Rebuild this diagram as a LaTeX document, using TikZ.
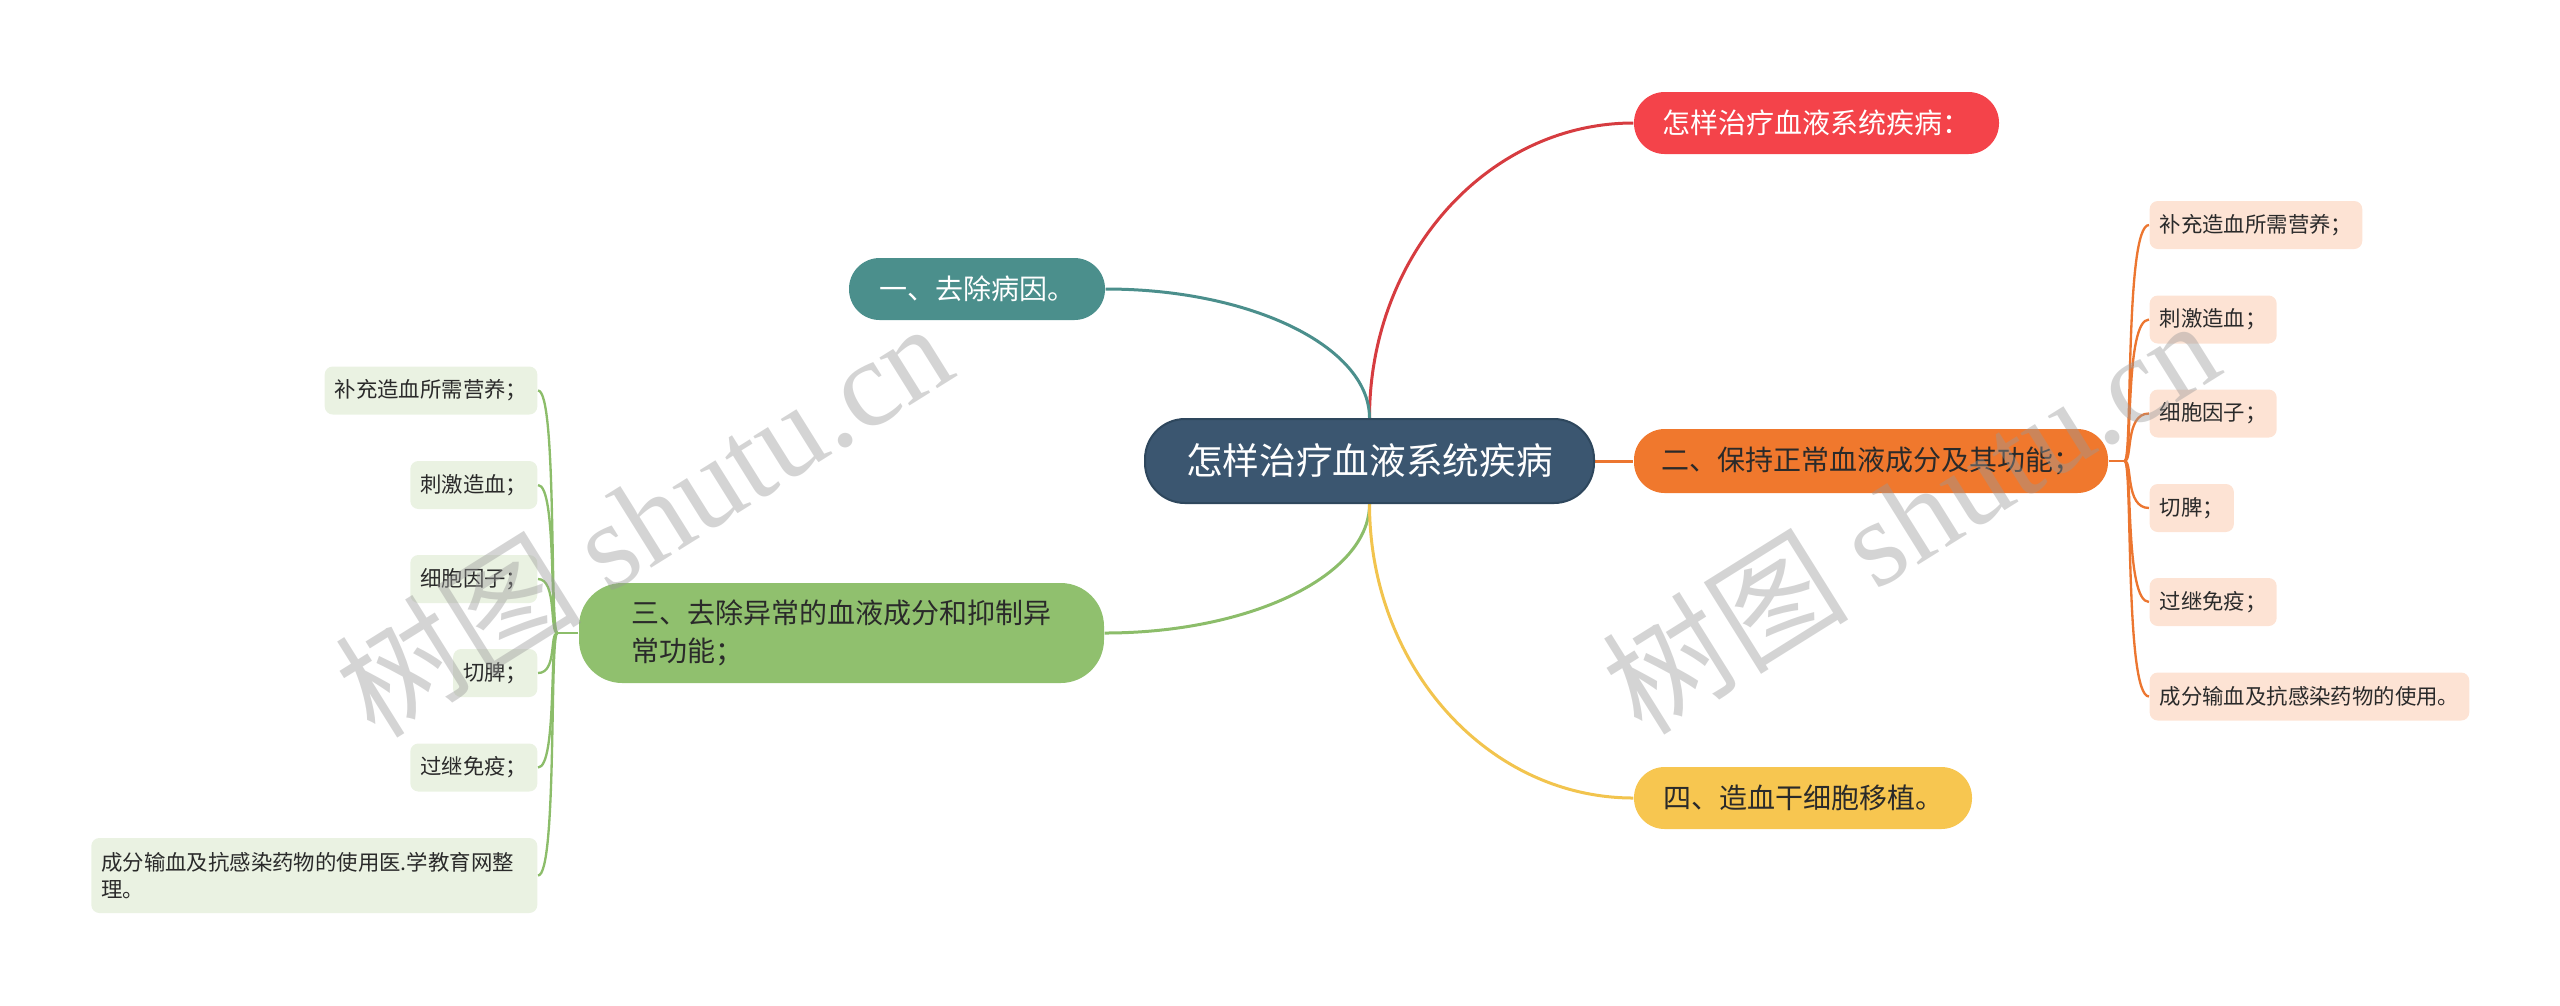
\documentclass[tikz,border=0pt]{standalone}
\usepackage{fontspec}
\setmainfont{Noto Sans CJK SC}
\newfontfamily\wmlatin{Liberation Serif}
\usetikzlibrary{calc,backgrounds}
\definecolor{rootC}{HTML}{3B5670}
\definecolor{rootB}{HTML}{2E475D}
\definecolor{redC}{HTML}{F4434A}
\definecolor{redL}{HTML}{D63C40}
\definecolor{tealC}{HTML}{4B8F8C}
\definecolor{orC}{HTML}{F0782D}
\definecolor{orL}{HTML}{EC7630}
\definecolor{grC}{HTML}{90C06E}
\definecolor{grL}{HTML}{8CBD6A}
\definecolor{yeC}{HTML}{F7C650}
\definecolor{yeL}{HTML}{F2C44E}
\definecolor{orLeaf}{HTML}{FDE3D4}
\definecolor{grLeaf}{HTML}{EAF2E2}
\definecolor{txt}{HTML}{2A2A2A}
\tikzset{
  rootbox/.style={fill=rootC, draw=rootB, line width=0.6pt, rounded corners=12pt, text=white,
    font=\fontsize{11}{13}\selectfont, minimum width=449*0.3pt, minimum height=84*0.3pt, inner sep=0pt},
  branch/.style={rounded corners=9.2pt, minimum height=62*0.3pt, inner sep=0pt,
    font=\fontsize{8.4}{11.2}\selectfont, text=txt},
  leafbox/.style={rounded corners=2.4pt, minimum height=48*0.3pt, inner xsep=3pt, inner ysep=0pt,
    font=\fontsize{6.42}{7.9}\selectfont, text=txt},
  mainline/.style={line width=0.9pt},
  leafline/.style={line width=0.7pt},
  wmark/.style={rotate=32, text=black!40, text opacity=0.42, font=\fontsize{37}{40}\selectfont}
}
\begin{document}
\begin{tikzpicture}[x=0.3pt,y=-0.3pt]
\useasboundingbox (0,0) rectangle (2560,1005);
% nodes
\node[rootbox] (root) at (1369.5,461) {怎样治疗血液系统疾病};
\node[branch, fill=redC, text=white, minimum width=365*0.3pt] (red) at (1816.5,123) {怎样治疗血液系统疾病：};
\node[branch, fill=tealC, text=white, minimum width=256*0.3pt] (teal) at (977,289) {一、去除病因。};
\node[branch, fill=orC, minimum width=474*0.3pt, minimum height=64*0.3pt] (orange) at (1871,461) {二、保持正常血液成分及其功能；};
\node[branch, fill=grC, minimum width=525*0.3pt, minimum height=100*0.3pt, rounded corners=13pt, align=left, text width=420*0.3pt] (green) at (841.5,633) {三、去除异常的血液成分和抑制异\\常功能；};
\node[branch, fill=yeC, minimum width=338*0.3pt] (yellow) at (1803,798) {四、造血干细胞移植。};
% orange leaves
\node[leafbox, fill=orLeaf, anchor=west] (L1) at (2149,225) {补充造血所需营养；};
\node[leafbox, fill=orLeaf, anchor=west] (L2) at (2149,319.5) {刺激造血；};
\node[leafbox, fill=orLeaf, anchor=west] (L3) at (2149,413.5) {细胞因子；};
\node[leafbox, fill=orLeaf, anchor=west] (L4) at (2149,508) {切脾；};
\node[leafbox, fill=orLeaf, anchor=west] (L5) at (2149,602) {过继免疫；};
\node[leafbox, fill=orLeaf, anchor=west] (L6) at (2149,696.5) {成分输血及抗感染药物的使用。};
% green leaves
\node[leafbox, fill=grLeaf, anchor=east] (G1) at (538,390.5) {补充造血所需营养；};
\node[leafbox, fill=grLeaf, anchor=east] (G2) at (538,485) {刺激造血；};
\node[leafbox, fill=grLeaf, anchor=east] (G3) at (538,579) {细胞因子；};
\node[leafbox, fill=grLeaf, anchor=east] (G4) at (538,673) {切脾；};
\node[leafbox, fill=grLeaf, anchor=east] (G5) at (538,767.5) {过继免疫；};
\node[leafbox, fill=grLeaf, anchor=east, minimum height=75*0.3pt, align=left, text width=426*0.3pt] (G6) at (538,875.5) {成分输血及抗感染药物的使用医.学教育网整\\理。};
% connectors
\begin{pgfonlayer}{background}
\draw[mainline, redL] (root.north) .. controls ($(root.north)!0.552!(root.north|-red.west)$) and ($(red.west)!0.552!(root.north|-red.west)$) .. (red.west);
\draw[mainline, tealC] (root.north) .. controls ($(root.north)!0.552!(root.north|-teal.east)$) and ($(teal.east)!0.552!(root.north|-teal.east)$) .. (teal.east);
\draw[mainline, grL] (root.south) .. controls ($(root.south)!0.552!(root.south|-green.east)$) and ($(green.east)!0.552!(root.south|-green.east)$) .. (green.east);
\draw[mainline, yeL] (root.south) .. controls ($(root.south)!0.552!(root.south|-yellow.west)$) and ($(yellow.west)!0.552!(root.south|-yellow.west)$) .. (yellow.west);
\draw[mainline, orL] (root.east) -- (orange.west);
\coordinate (oj) at ($(orange.east)+(16,0)$);
\draw[leafline, orL] (orange.east) -- (oj);
\foreach \n in {L1,L2,L3,L4,L5,L6}{
  \draw[leafline, orL] (oj) .. controls ($(oj)+(8,0)$) and (oj |- \n.west) .. (\n.west);
}
\coordinate (gj) at ($(green.west)+(-21,0)$);
\draw[leafline, grL] (green.west) -- (gj);
\foreach \n in {G1,G2,G3,G4,G5,G6}{
  \draw[leafline, grL] (gj) .. controls ($(gj)+(-8,0)$) and (gj |- \n.east) .. (\n.east);
}
\end{pgfonlayer}
% watermarks
\node[wmark] (wm1) at (643,518) {树图 {\wmlatin shutu.cn}};
\node[wmark] (wm2) at (1910,515) {树图 {\wmlatin shutu.cn}};
\end{tikzpicture}
\end{document}
